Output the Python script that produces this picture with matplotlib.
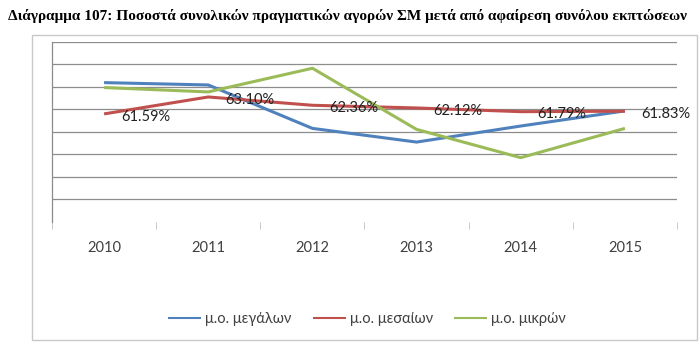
import matplotlib
matplotlib.use("Agg")
import matplotlib.pyplot as plt
from matplotlib.patches import Rectangle

# yearly averages (%)
years = ["2010", "2011", "2012", "2013", "2014", "2015"]
large = [64.38, 64.17, 60.30, 59.08, 60.51, 61.86]
medium = [61.59, 63.10, 62.36, 62.12, 61.79, 61.83]
small = [63.94, 63.55, 65.66, 60.21, 57.69, 60.30]

series_names = ["μ.ο. μεγάλων", "μ.ο. μεσαίων", "μ.ο. μικρών"]
colors = ["#4F81BD", "#C0504D", "#9BBB59"]

plt.rcParams['font.family'] = ['Lato', 'DejaVu Sans']

fig = plt.figure(figsize=(7.0, 3.45), dpi=100)

# chart frame
fig.patches.append(Rectangle((32 / 700, 1 - 340 / 345), 665 / 700, 305 / 345,
                             transform=fig.transFigure, fill=False,
                             edgecolor="#c8c8c8", linewidth=1.0))

fig.text(8 / 700, 1 - 16 / 345,
         "Διάγραμμα 107: Ποσοστά συνολικών πραγματικών αγορών ΣΜ μετά από αφαίρεση συνόλου εκπτώσεων",
         family=['Liberation Serif', 'DejaVu Serif'], fontweight='bold', fontsize=11,
         va='center', ha='left')

ax = fig.add_axes([52 / 700, 1 - 221.5 / 345, 625 / 700, 179.5 / 345])
x = list(range(len(years)))
for vals, name, c in zip([large, medium, small], series_names, colors):
    ax.plot(x, vals, color=c, linewidth=2.2, label=name, solid_capstyle='butt')

for xi, v in zip(x, medium):
    ax.annotate(f"{v:.2f}%", (xi, v), xytext=(12, -2), textcoords='offset points',
                ha='left', va='center', fontsize=10.5, color='#222222')

ax.set_xlim(-0.5, 5.5)
ax.set_ylim(52, 68)
ax.set_yticks(range(54, 69, 2))
ax.yaxis.grid(True, color="#8c8c8c", linewidth=0.9)
ax.set_axisbelow(True)
ax.tick_params(axis='y', left=False, labelleft=False)

ax.set_xticks(x)
ax.set_xticklabels(years, fontsize=10.5, color='#404040')
ax.set_xticks([i - 0.5 for i in range(len(years) + 1)], minor=True)
ax.tick_params(axis='x', which='major', length=0, pad=14)
ax.tick_params(axis='x', which='minor', length=5, color='#c0c0c0', direction='out')

for s in ['top', 'right', 'bottom']:
    ax.spines[s].set_visible(False)
ax.spines['left'].set_color('#8c8c8c')
ax.spines['left'].set_linewidth(0.9)

leg = fig.legend(loc='center', bbox_to_anchor=(367 / 700, 1 - 319 / 345), ncol=3,
                 frameon=False, fontsize=10.5, handlelength=2.27, columnspacing=1.45,
                 handletextpad=0.27)
for line in leg.get_lines():
    line.set_linewidth(1.5)
for t in leg.get_texts():
    t.set_color('#404040')

fig.savefig("out.png", dpi=100)
